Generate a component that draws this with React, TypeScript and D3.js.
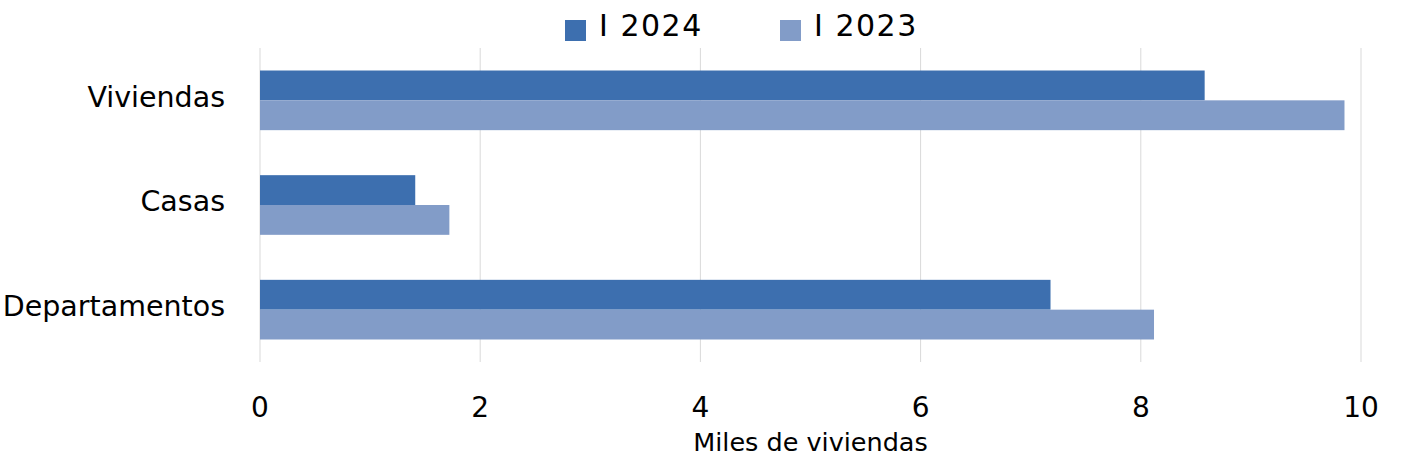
import React, { useEffect, useRef } from 'react';
import * as d3 from 'd3';

const categories = ['Viviendas', 'Casas', 'Departamentos'];
const seriesNames = ['I 2024', 'I 2023'];
const values2024 = [8.58, 1.41, 7.18];
const values2023 = [9.85, 1.72, 8.12];
const xTicks = [0, 2, 4, 6, 8, 10];
const axisTitle = 'Miles de viviendas';

const COLORS = ['#3d6faf', '#829cc8'];
const FONT = '"DejaVu Sans", Verdana, sans-serif';

const App = () => {
  const svgRef = useRef<SVGSVGElement>(null);
  const width = 1423;
  const height = 466;
  const margin = { top: 48, right: 62, bottom: 104, left: 260 };

  useEffect(() => {
    const svg = d3.select(svgRef.current);
    svg.selectAll('*').remove();

    const innerWidth = width - margin.left - margin.right;
    const innerHeight = height - margin.top - margin.bottom;

    const g = svg.append('g').attr('transform', `translate(${margin.left},${margin.top})`);

    const x = d3.scaleLinear().domain([0, 10]).range([0, innerWidth]);
    const y = d3.scaleBand().domain(categories).range([0, innerHeight]).paddingInner(0.43).paddingOuter(0.215);
    const y1 = d3.scaleBand().domain(seriesNames).range([0, y.bandwidth()]);

    // gridlines
    g.selectAll('.grid')
      .data(xTicks)
      .enter()
      .append('line')
      .attr('x1', d => x(d))
      .attr('x2', d => x(d))
      .attr('y1', 0)
      .attr('y2', innerHeight)
      .attr('stroke', '#d9d9d9')
      .attr('stroke-width', 1);

    const series = [values2024, values2023];
    series.forEach((vals, si) => {
      g.selectAll(`.bar-${si}`)
        .data(vals)
        .enter()
        .append('rect')
        .attr('x', 0)
        .attr('y', (d, i) => (y(categories[i]) as number) + (y1(seriesNames[si]) as number))
        .attr('width', d => x(d))
        .attr('height', y1.bandwidth())
        .attr('fill', COLORS[si]);
    });

    // category labels
    g.selectAll('.cat')
      .data(categories)
      .enter()
      .append('text')
      .attr('x', -35)
      .attr('y', d => (y(d) as number) + y.bandwidth() / 2 - 4)
      .attr('dy', '0.36em')
      .attr('text-anchor', 'end')
      .attr('font-family', FONT)
      .attr('font-size', 28.5)
      .attr('fill', '#000')
      .text(d => d);

    // x tick labels
    g.selectAll('.tick')
      .data(xTicks)
      .enter()
      .append('text')
      .attr('x', d => x(d))
      .attr('y', innerHeight + 55)
      .attr('text-anchor', 'middle')
      .attr('font-family', FONT)
      .attr('font-size', 28)
      .attr('fill', '#000')
      .text(d => d);

    g.append('text')
      .attr('x', innerWidth / 2)
      .attr('y', innerHeight + 89)
      .attr('text-anchor', 'middle')
      .attr('font-family', FONT)
      .attr('font-size', 25.5)
      .attr('fill', '#000')
      .text(axisTitle);

    // legend
    const legendX = [565, 780];
    seriesNames.forEach((name, i) => {
      const lg = svg.append('g').attr('transform', `translate(${legendX[i]},0)`);
      lg.append('rect').attr('y', 20).attr('width', 21).attr('height', 21).attr('fill', COLORS[i]);
      lg.append('text')
        .attr('x', 34)
        .attr('y', 25)
        .attr('dy', '0.36em')
        .attr('font-family', FONT)
        .attr('font-size', 30)
        .attr('letter-spacing', 1.5)
        .attr('fill', '#000')
        .text(name);
    });
  }, []);

  return (
    <div style={{ position: 'absolute', left: 0, top: 0, width, height, background: '#fff' }}>
      <svg ref={svgRef} width={width} height={height} style={{ display: 'block' }} />
    </div>
  );
};

export default App;
